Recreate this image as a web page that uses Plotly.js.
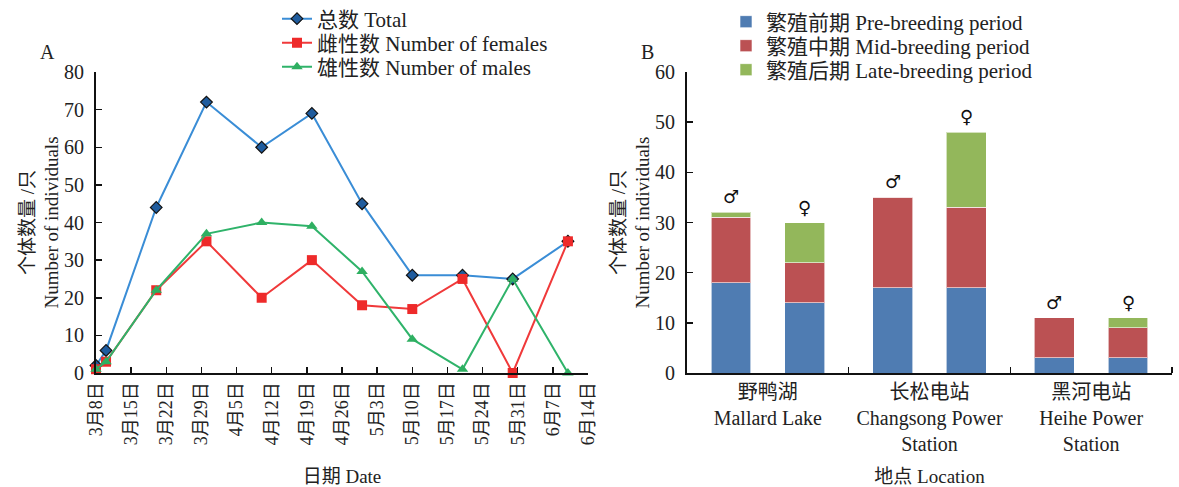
<!DOCTYPE html>
<html>
<head>
<meta charset="utf-8">
<script src="https://cdn.plot.ly/plotly-3.0.1.min.js"></script>
<style>html,body{margin:0;padding:0;background:#fff;}#chart{width:1179px;height:487px;}</style>
</head>
<body>
<div id="chart"></div>
<script>
// ---- Panel A data ----
const dates = ['2019-03-08','2019-03-10','2019-03-20','2019-03-30','2019-04-10','2019-04-20','2019-04-30','2019-05-10','2019-05-20','2019-05-30','2019-06-10'];
const total   = [2, 6, 44, 72, 60, 69, 45, 26, 26, 25, 35];
const females = [1, 3, 22, 35, 20, 30, 18, 17, 25, 0, 35];
const males   = [1, 3, 22, 37, 40, 39, 27, 9, 1, 25, 0];
const dateTickVals = ['2019-03-08','2019-03-15','2019-03-22','2019-03-29','2019-04-05','2019-04-12','2019-04-19','2019-04-26','2019-05-03','2019-05-10','2019-05-17','2019-05-24','2019-05-31','2019-06-07','2019-06-14'];
const dateTickText = ['3月8日','3月15日','3月22日','3月29日','4月5日','4月12日','4月19日','4月26日','5月3日','5月10日','5月17日','5月24日','5月31日','6月7日','6月14日'];

// ---- Panel B data ----
const barLabels = ['野鸭湖 ♂','野鸭湖 ♀','长松电站 ♂','长松电站 ♀','黑河电站 ♂','黑河电站 ♀'];
const sexes = ['♂','♀','♂','♀','♂','♀'];
const preBreeding  = [18, 14, 17, 17, 3, 3];
const midBreeding  = [13, 8, 18, 16, 8, 6];
const lateBreeding = [1, 8, 0, 15, 0, 2];
const groupLabels = ['野鸭湖<br>Mallard Lake','长松电站<br>Changsong Power<br>Station','黑河电站<br>Heihe Power<br>Station'];

const FONT = 'Liberation Serif, "Times New Roman", "Noto Sans CJK SC", serif';
const BAR_OFFSET = 0.228, BAR_WIDTH = 0.247;
const barX = barLabels.map((_, i) => Math.floor(i / 2) + 0.5 + (i % 2 ? BAR_OFFSET : -BAR_OFFSET));
const groupX = groupLabels.map((_, i) => i + 0.5);
const groupBounds = groupLabels.map((_, i) => i + 1);

const traces = [
  {x: dates, y: total, name: '总数 Total', type: 'scatter', mode: 'lines+markers',
   line: {color: '#3A8DD6', width: 2}, marker: {symbol: 'diamond', size: 9, color: '#1F5C9E', line: {color: '#111', width: 1.2}},
   cliponaxis: false, xaxis: 'x', yaxis: 'y', legend: 'legend'},
  {x: dates, y: females, name: '雌性数 Number of females', type: 'scatter', mode: 'lines+markers',
   line: {color: '#F0393A', width: 2}, marker: {symbol: 'square', size: 10, color: '#EE2A2A'},
   cliponaxis: false, xaxis: 'x', yaxis: 'y', legend: 'legend2'},
  {x: dates, y: males, name: '雄性数 Number of males', type: 'scatter', mode: 'lines+markers',
   line: {color: '#2FB36A', width: 2}, marker: {symbol: 'triangle-up', size: 10, color: '#2EAF61'},
   cliponaxis: false, xaxis: 'x', yaxis: 'y', legend: 'legend3'},
  {x: barX, y: preBreeding, name: '繁殖前期 Pre-breeding period', type: 'bar', width: BAR_WIDTH,
   marker: {color: '#4F7CB2', line: {color: 'rgba(255,255,255,0.6)', width: 1}}, xaxis: 'x2', yaxis: 'y2', legend: 'legend4'},
  {x: barX, y: midBreeding, name: '繁殖中期 Mid-breeding period', type: 'bar', width: BAR_WIDTH,
   marker: {color: '#BB5153', line: {color: 'rgba(255,255,255,0.6)', width: 1}}, xaxis: 'x2', yaxis: 'y2', legend: 'legend5'},
  {x: barX, y: lateBreeding, name: '繁殖后期 Late-breeding period', type: 'bar', width: BAR_WIDTH,
   marker: {color: '#93B75B', line: {color: 'rgba(255,255,255,0.6)', width: 1}}, xaxis: 'x2', yaxis: 'y2', legend: 'legend6'}
];

const sexAnn = barX.map((x, i) => ({
  x: x, y: preBreeding[i] + midBreeding[i] + lateBreeding[i], xref: 'x2', yref: 'y2',
  text: sexes[i], showarrow: false, yanchor: 'bottom', yshift: 3,
  font: {family: 'DejaVu Sans', size: 18, color: '#111'}
}));

const axisCommon = {
  showline: true, linecolor: '#111', linewidth: 2, ticks: 'inside', ticklen: 6, tickwidth: 1.5, tickcolor: '#111',
  showgrid: false, zeroline: false, tickfont: {family: FONT, size: 20, color: '#222'}
};

function legendAt(px, py) {
  return {x: px/1179, y: 1 - py/487, xanchor: 'left', yanchor: 'middle', bgcolor: 'rgba(0,0,0,0)',
          font: {family: FONT, size: 21, color: '#222'}, itemwidth: 30, borderwidth: 0};
}

const layout = {
  width: 1179, height: 487,
  margin: {l: 0, r: 0, t: 0, b: 0, autoexpand: false},
  paper_bgcolor: '#fff', plot_bgcolor: '#fff',
  font: {family: FONT, color: '#222'},
  barmode: 'stack',
  xaxis: Object.assign({}, axisCommon, {
    domain: [96/1179, 588/1179], type: 'date', range: ['2019-03-08', '2019-06-14'],
    tickmode: 'array', tickvals: dateTickVals, ticktext: dateTickText, tickangle: -90,
    tickfont: {family: FONT, size: 18, color: '#222'}, anchor: 'y',
    title: {text: '日期 Date', font: {family: FONT, size: 19, color: '#222'}, standoff: 26}
  }),
  yaxis: Object.assign({}, axisCommon, {
    domain: [(487-373)/487, (487-72)/487], range: [0, 80], dtick: 10, anchor: 'x', ticklabelstandoff: 6,
    title: {text: '个体数量 /只<br>Number of individuals', font: {family: FONT, size: 19, color: '#222'}, standoff: 0}
  }),
  xaxis2: Object.assign({}, axisCommon, {
    domain: [687/1179, 1172/1179], range: [0, 3], anchor: 'y2',
    tickmode: 'array', tickvals: groupX, ticktext: groupLabels, ticks: '',
    minor: {tickmode: 'array', tickvals: groupBounds, ticks: 'inside', ticklen: 6, tickwidth: 1.5, tickcolor: '#111', showgrid: false},
    tickfont: {family: FONT, size: 20, color: '#222'},
    title: {text: '地点 Location', font: {family: FONT, size: 19, color: '#222'}, standoff: 16}
  }),
  yaxis2: Object.assign({}, axisCommon, {
    domain: [(487-373)/487, (487-72)/487], range: [0, 60], dtick: 10, anchor: 'x2', ticklabelstandoff: 6,
    title: {text: '个体数量 /只<br>Number of individuals', font: {family: FONT, size: 19, color: '#222'}, standoff: 0}
  }),
  legend:  legendAt(277, 19),
  legend2: legendAt(277, 43),
  legend3: legendAt(277, 67),
  legend4: legendAt(726, 22),
  legend5: legendAt(726, 46),
  legend6: legendAt(726, 70),
  showlegend: true,
  annotations: [
    {text: 'A', x: 47/1179, y: 1 - 52/487, xref: 'paper', yref: 'paper', xanchor: 'center', yanchor: 'middle', showarrow: false, font: {family: FONT, size: 20, color: '#222'}},
    {text: 'B', x: 647/1179, y: 1 - 52/487, xref: 'paper', yref: 'paper', xanchor: 'center', yanchor: 'middle', showarrow: false, font: {family: FONT, size: 20, color: '#222'}}
  ].concat(sexAnn)
};

Plotly.newPlot('chart', traces, layout, {displayModeBar: false, staticPlot: true});
</script>
</body>
</html>
